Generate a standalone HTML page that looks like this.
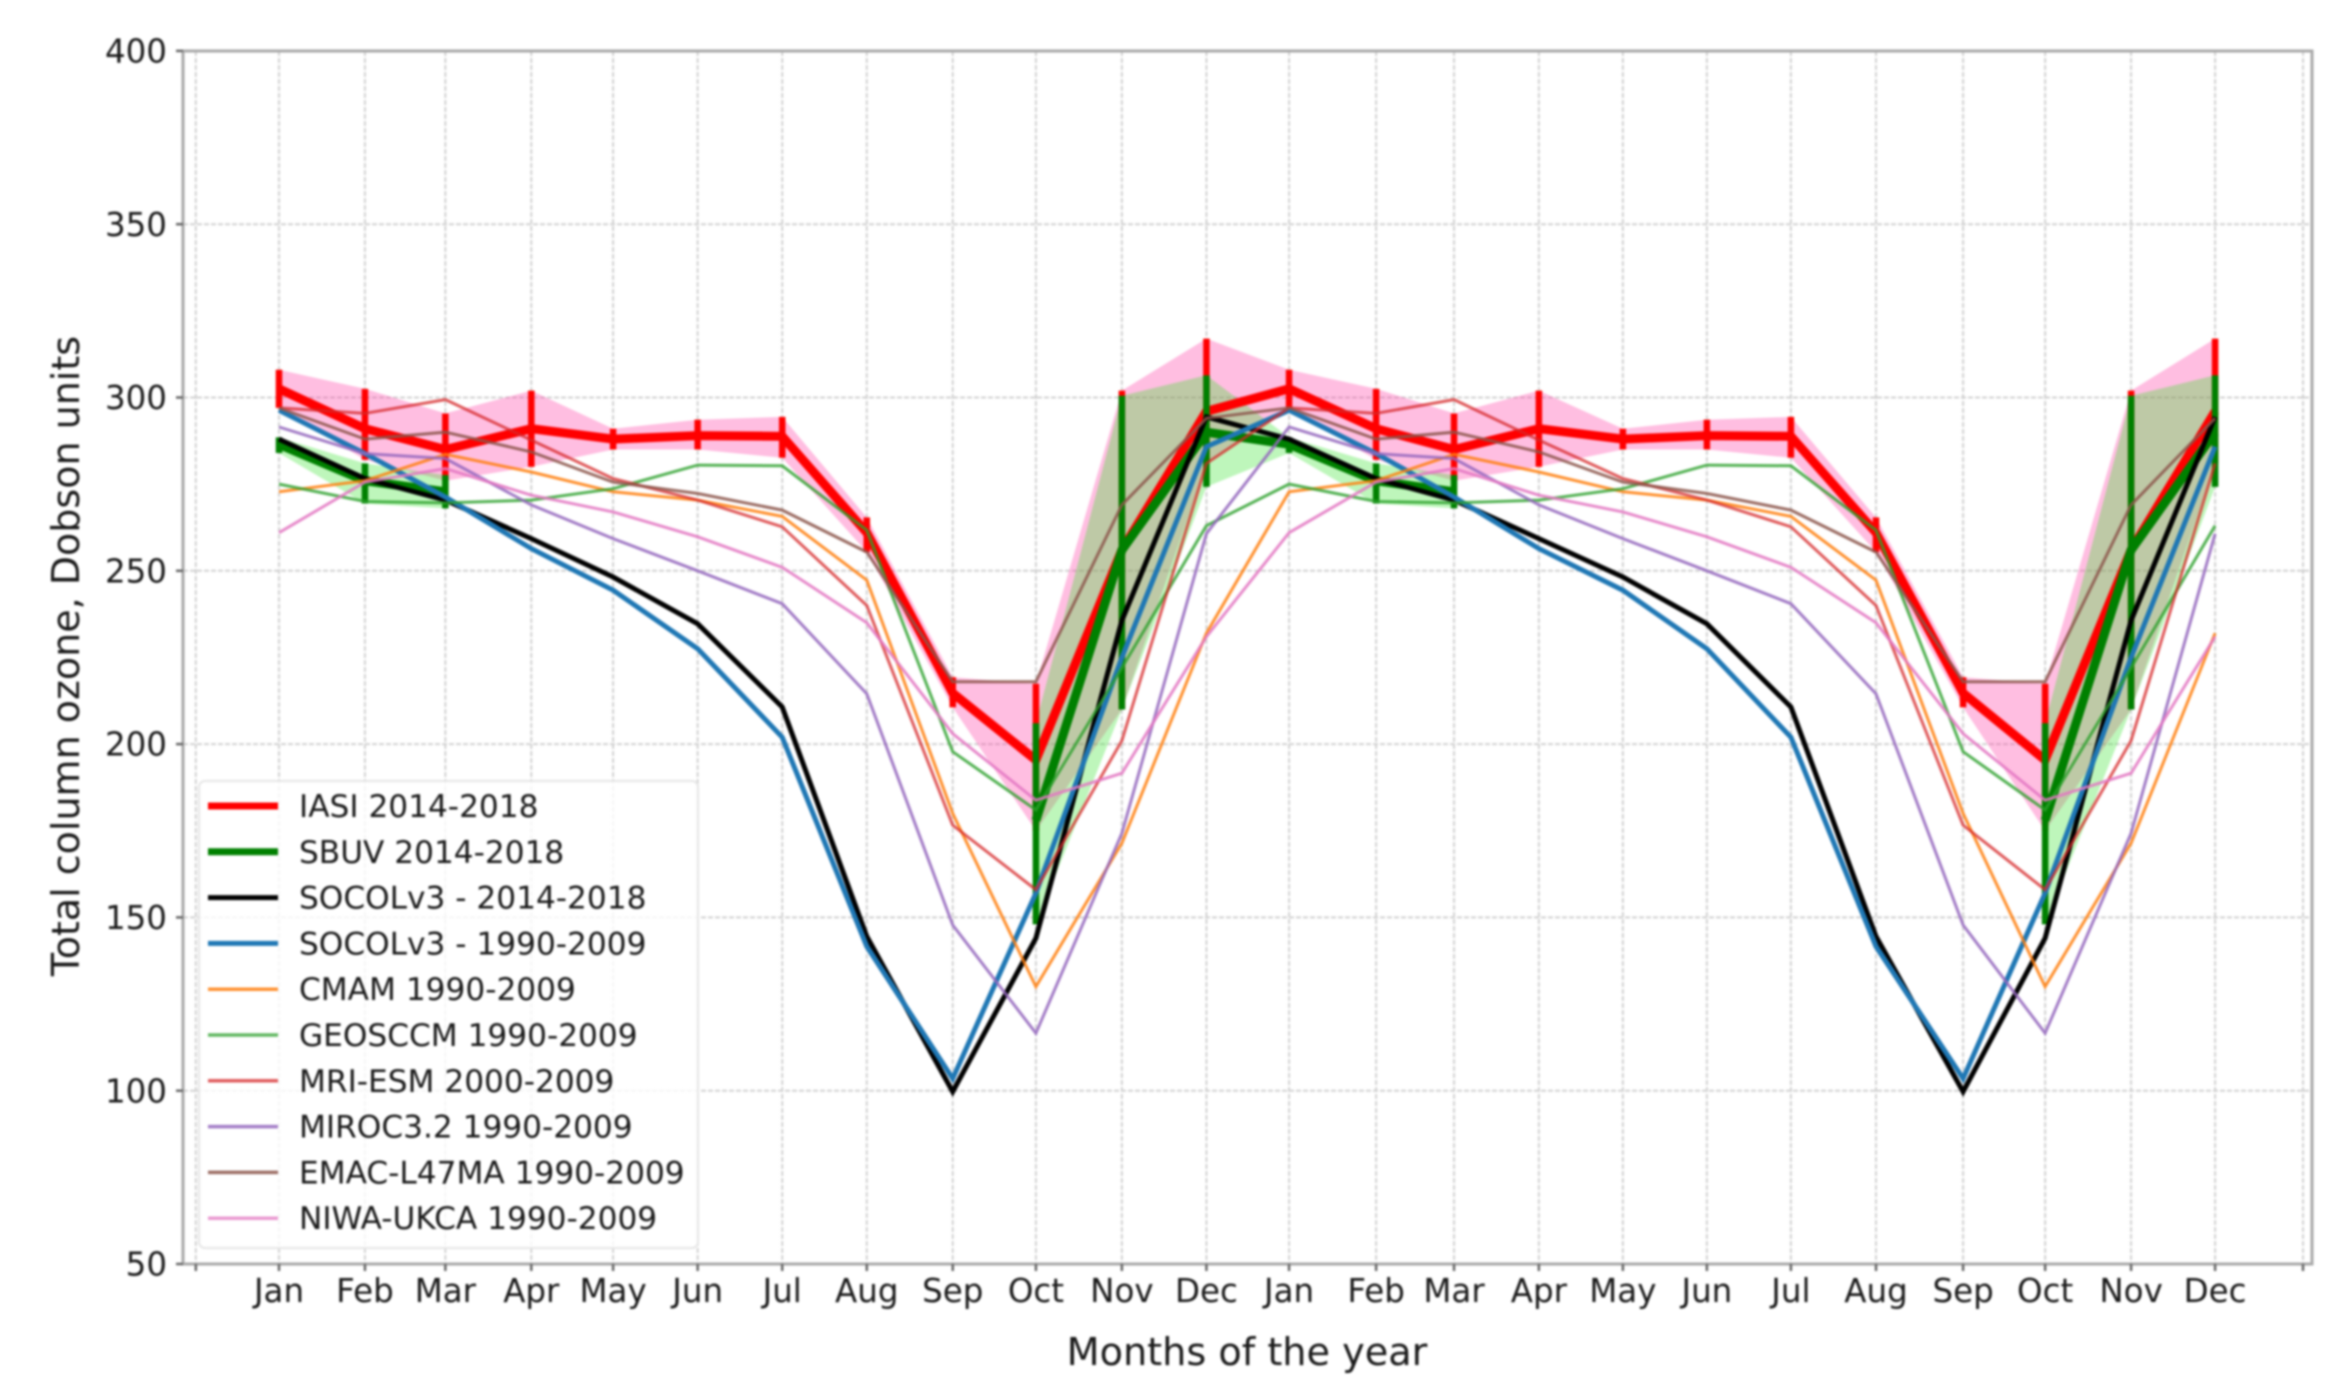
<!DOCTYPE html>
<html lang="en">
<head>
<meta charset="utf-8">
<title>Total column ozone by month</title>
<style>
html,body{margin:0;padding:0;background:#fff;width:2348px;height:1398px;overflow:hidden}
svg{display:block;filter:blur(1.1px)}
text{font-family:"DejaVu Sans","Liberation Sans",sans-serif;fill:#1a1a1a}
</style>
</head>
<body>
<svg id="chart" xmlns="http://www.w3.org/2000/svg" width="2348" height="1398" viewBox="0 0 2348 1398"></svg>
<script>
// ---- categories and tick labels ----
const monthLabels = ["Jan","Feb","Mar","Apr","May","Jun","Jul","Aug","Sep","Oct","Nov","Dec"];
const monthDays = [15,46,75,106,135.5,166,196.5,227,258,288,319,349.5,
  379.3,410.7,438.8,469.4,499.7,530,560.3,591,622.4,652,683,713.3];
const unlabeledTickDays = [-15,745];
const yTickValues = [50,100,150,200,250,300,350,400];

// ---- series values, Dobson units, Jan..Dec (drawn twice) ----
const iasiMean  = [302.5,291,285,291,288,289,288.8,261,214.7,195.4,256,296];
const iasiUpper = [308,302.5,295.4,302,291,293.6,294.4,265.4,219.3,217.4,302,317];
const iasiLower = [297,282,276,280,285,285,282.6,255.4,210.6,175,210,281];
const sbuvMean  = [286.5,276,272.8,null,null,null,null,null,null,178,256,290];
const sbuvUpper = [288.5,281,277.6,null,null,null,null,null,null,206,300.5,306.4];
const sbuvLower = [284,269.4,268,null,null,null,null,null,null,148,210,274.2];
const socol2014 = [288,276.6,270.4,259.3,248.2,234.7,210.7,144.5,99.7,144,235.7,294.4];
const socol1990 = [296.3,283.8,271.3,256.4,244.4,227.5,202,141.6,103.5,157,225,285.8];
const cmam      = [272.8,276,283.6,278.5,272.8,270.4,265.7,247.3,180,130,171.4,232];
const geosccm   = [275,270,269.6,270.4,273.7,280.5,280.3,261.7,197.8,181,222,263];
const mriEsm    = [297,295.4,299.4,287.7,276.6,270.4,262.7,240,176.6,158,201,281];
const miroc     = [291.5,283.8,282.4,269,259.3,250,240.5,214.5,147.8,116.6,174.3,260.7];
const emac      = [297,288,290,284.3,275.6,272.3,267.5,255.4,218,218,269,294];
const niwa      = [261,275.6,279.5,271.8,267,259.8,251,235,203,183.8,191.6,231];

// ---- axis functions ----
function xScale(day){ return 279 + (day - 15) * 2.7726; }
function yScale(v){ return 1264 - (v - 50) * 3.466; }
function twoYears(a){ return a.concat(a); }

const NS = "http://www.w3.org/2000/svg";
const svg = document.getElementById("chart");
function make(tag, attrs, parent){
  const el = document.createElementNS(NS, tag);
  for (const k in attrs) el.setAttribute(k, attrs[k]);
  (parent || svg).appendChild(el);
  return el;
}
function group(name){
  const g = make("g", {});
  
  
  return g;
}
function linePath(vals){
  let d = "", pen = false;
  vals.forEach(function(v, i){
    if (v === null) { pen = false; return; }
    d += (pen ? "L" : "M") + xScale(monthDays[i]).toFixed(1) + " " + yScale(v).toFixed(1);
    pen = true;
  });
  return d;
}
function bandPaths(up, lo){
  const out = [];
  let run = [];
  const flush = function(){
    if (run.length > 1) {
      const top = run.map(function(i){ return xScale(monthDays[i]).toFixed(1) + " " + yScale(up[i]).toFixed(1); });
      const bot = run.slice().reverse().map(function(i){ return xScale(monthDays[i]).toFixed(1) + " " + yScale(lo[i]).toFixed(1); });
      out.push("M" + top.join("L") + "L" + bot.join("L") + "Z");
    }
    run = [];
  };
  up.forEach(function(v, i){ if (v === null) flush(); else run.push(i); });
  flush();
  return out;
}

// ---- grid ----
const gridG = group("grid");
monthDays.concat(unlabeledTickDays).forEach(function(day){
  const l = make("line", {x1:xScale(day), x2:xScale(day), y1:51, y2:1264, stroke:"#d2d2d2", "stroke-width":2, "stroke-dasharray":"5 2"}, gridG);
  
  
});
yTickValues.forEach(function(v){
  const l = make("line", {x1:183, x2:2312, y1:yScale(v), y2:yScale(v), stroke:"#d2d2d2", "stroke-width":2, "stroke-dasharray":"5 2"}, gridG);
  
  
});

// ---- bands ----
const iasiBandG = group("iasi-range-band");
bandPaths(twoYears(iasiUpper), twoYears(iasiLower)).forEach(function(d){
  const p = make("path", {d:d, fill:"rgb(255,58,164)", "fill-opacity":0.33}, iasiBandG);
  
  
});
const sbuvBandG = group("sbuv-range-band");
bandPaths(twoYears(sbuvUpper), twoYears(sbuvLower)).forEach(function(d){
  const p = make("path", {d:d, fill:"rgb(40,225,30)", "fill-opacity":0.3}, sbuvBandG);
  
  
});

// ---- error bars and thick lines ----
function errorBars(up, lo, color, name){
  const g = group(name);
  twoYears(up).forEach(function(v, i){
    if (v === null) return;
    const x = xScale(monthDays[i]);
    const l = make("line", {x1:x, x2:x, y1:yScale(v), y2:yScale(twoYears(lo)[i]), stroke:color, "stroke-width":6.5}, g);
    
    
  });
}
function seriesLine(vals, color, width, opacity, name){
  const p = make("path", {d:linePath(twoYears(vals)), fill:"none", stroke:color, "stroke-width":width, "stroke-opacity":opacity, "stroke-linejoin":"miter"});
  
  
}
errorBars(iasiUpper, iasiLower, "#ff0000", "iasi-error-bars");
seriesLine(iasiMean, "#ff0000", 9, 1, "iasi-line");
errorBars(sbuvUpper, sbuvLower, "#008000", "sbuv-error-bars");
seriesLine(sbuvMean, "#008000", 9, 1, "sbuv-line");
seriesLine(socol2014, "#000000", 5, 1, "socol-2014-line");
seriesLine(socol1990, "#1f77b4", 5, 1, "socol-1990-line");
seriesLine(cmam, "#ff7f0e", 3, 0.85, "cmam-line");
seriesLine(geosccm, "#2ca02c", 3, 0.8, "geosccm-line");
seriesLine(mriEsm, "#d62728", 3, 0.75, "mri-esm-line");
seriesLine(miroc, "#9467bd", 3, 0.85, "miroc-line");
seriesLine(emac, "#8c564b", 3, 0.85, "emac-line");
seriesLine(niwa, "#e377c2", 3, 0.85, "niwa-line");

// ---- spines, ticks, tick labels ----
const frame = make("rect", {x:183, y:51, width:2129, height:1213, fill:"none", stroke:"#a9a9a9", "stroke-width":3});



const xAxisG = group("x-axis");
monthDays.concat(unlabeledTickDays).forEach(function(day){
  const t = make("line", {x1:xScale(day), x2:xScale(day), y1:1264, y2:1271, stroke:"#666", "stroke-width":2.5}, xAxisG);
  
  
});
monthDays.forEach(function(day, i){
  const t = make("text", {x:xScale(day), y:1302, "text-anchor":"middle", "font-size":32.5}, xAxisG);
  t.textContent = monthLabels[i % 12];
  
  
});
const yAxisG = group("y-axis");
yTickValues.forEach(function(v){
  const m = make("line", {x1:176, x2:183, y1:yScale(v), y2:yScale(v), stroke:"#666", "stroke-width":2.5}, yAxisG);
  
  
  const t = make("text", {x:167, y:yScale(v) + 11.6, "text-anchor":"end", "font-size":32.5}, yAxisG);
  t.textContent = v;
  
  
});

const xTitle = make("text", {x:1247, y:1365, "text-anchor":"middle", "font-size":38.2});
xTitle.textContent = "Months of the year";



const yTitle = make("text", {transform:"translate(79,656) rotate(-90)", "text-anchor":"middle", "font-size":38});
yTitle.textContent = "Total column ozone, Dobson units";



// ---- legend ----
const legendLabels = ["IASI 2014-2018","SBUV 2014-2018","SOCOLv3 - 2014-2018","SOCOLv3 - 1990-2009","CMAM 1990-2009","GEOSCCM 1990-2009","MRI-ESM 2000-2009","MIROC3.2 1990-2009","EMAC-L47MA 1990-2009","NIWA-UKCA 1990-2009"];
const legendColors = ["#ff0000","#008000","#000000","#1f77b4","#ff7f0e","#2ca02c","#d62728","#9467bd","#8c564b","#e377c2"];
const legendWidths = [7,7,5,5,3.5,3.5,3.5,3.5,3.5,3.5];
const legendOpacity = [1,1,1,1,0.85,0.75,0.75,0.85,0.85,0.75];
const legendG = group("legend");
const legendBox = make("rect", {x:199, y:781, width:499, height:467, rx:6, fill:"#ffffff", "fill-opacity":0.8, stroke:"#e6e6e6", "stroke-width":2}, legendG);


legendLabels.forEach(function(label, i){
  const y = 806 + i * 45.8;
  const h = make("line", {x1:208, x2:278, y1:y, y2:y, stroke:legendColors[i], "stroke-width":legendWidths[i], "stroke-opacity":legendOpacity[i]}, legendG);
  
  
  const t = make("text", {x:299, y:y + 11, "font-size":31.2}, legendG);
  t.textContent = label;
  
  
});
</script>
</body>
</html>
